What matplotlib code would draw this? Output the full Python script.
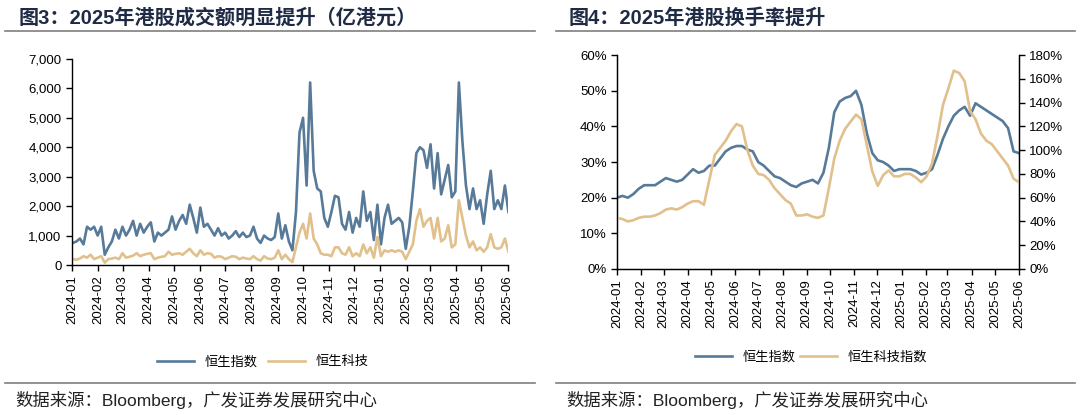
import matplotlib
matplotlib.use("Agg")
import matplotlib.pyplot as plt
import matplotlib.dates as mdates
from matplotlib.ticker import FuncFormatter, MultipleLocator
from matplotlib.lines import Line2D
import pandas as pd

plt.rcParams['font.family'] = ['Liberation Sans', 'Noto Sans CJK SC']

# ---- 图3: turnover (亿港元), sampled every ~3 trading days ----
hsi_turnover = [
    750, 800, 900, 700, 1300, 1200, 1300, 1000, 1300, 350,
    600, 800, 1200, 900, 1300, 1000, 1200, 1500, 1000, 1400,
    1100, 1300, 1450, 800, 1100, 1000, 1100, 1200, 1650, 1200,
    1500, 1700, 1400, 2050, 1600, 1100, 1950, 1300, 1400, 1200,
    1000, 1250, 1000, 1100, 900, 1000, 1150, 950, 1100, 950,
    1000, 1300, 900, 750, 1000, 900, 850, 950, 1750, 900,
    1350, 800, 500, 1800, 4500, 5000, 2700, 6200, 3200, 2600,
    2500, 1600, 1300, 1800, 2350, 2300, 1400, 1200, 1800, 1100,
    1600, 1300, 2500, 1500, 1800, 850, 2050, 700, 1600, 2050,
    1400, 1500, 1600, 1450, 550, 1300, 2500, 3800, 4000, 3900,
    3300, 4100, 2600, 3800, 2400, 2900, 3400, 2300, 2500, 6200,
    4200, 2700, 1900, 2600, 1900, 2200, 1400, 2400, 3200, 1900,
    2200, 1900, 2700, 1800,
]
hstech_turnover = [
    200, 180, 220, 300, 250, 350, 200, 250, 300, 80,
    200, 220, 250, 200, 400, 250, 280, 320, 400, 300,
    350, 380, 400, 200, 250, 280, 300, 450, 350, 380,
    400, 350, 450, 550, 400, 300, 500, 350, 400, 380,
    250, 300, 280, 200, 250, 300, 280, 200, 250, 220,
    200, 300, 200, 150, 300, 220, 200, 250, 500, 200,
    350, 200, 100, 600, 1100, 1400, 900, 1750, 900, 700,
    400, 350, 350, 300, 600, 600, 400, 350, 600, 300,
    400, 300, 700, 400, 600, 250, 950, 300, 500, 450,
    500, 450, 500, 450, 200, 450, 700, 1500, 1900, 1300,
    1500, 1600, 900, 1600, 800, 900, 1350, 600, 700, 2200,
    1600, 1000, 600, 800, 500, 600, 450, 600, 1050, 600,
    550, 600, 900, 450,
]
turnover_dates = pd.date_range('2024-01-02', '2025-06-02', periods=len(hsi_turnover))

# ---- 图4: turnover rate (%), weekly ----
hsi_rate = [
    20.0, 20.5, 20.0, 21.0, 22.5, 23.5, 23.5, 23.5, 24.5, 25.5,
    25.0, 24.5, 25.0, 26.5, 28.0, 27.0, 27.5, 29.0, 29.0, 31.0,
    33.0, 34.0, 34.5, 34.5, 33.5, 33.0, 30.0, 29.0, 27.5, 26.0,
    25.5, 24.5, 23.5, 23.0, 24.0, 24.5, 25.0, 24.0, 27.0, 34.0,
    44.0, 47.0, 48.0, 48.5, 50.0, 46.0, 38.0, 32.5, 30.5, 30.0,
    29.0, 27.5, 28.0, 28.0, 28.0, 27.5, 26.5, 27.0, 28.0, 32.0,
    36.5, 40.0, 43.0, 44.5, 45.5, 43.0, 46.5, 45.5, 44.5, 43.5,
    42.5, 41.5, 39.5, 33.0, 32.5,
]
hstech_rate = [
    43, 42, 40, 41, 43, 44, 44, 45, 47, 50,
    51, 50, 52, 55, 57, 57, 54, 75, 96, 102,
    108, 116, 122, 120, 100, 87, 80, 79, 75, 68,
    63, 58, 55, 45, 45, 46, 44, 43, 45, 68,
    93, 108, 118, 124, 130, 126, 104, 82, 70, 79,
    83, 78, 78, 80, 80, 77, 73, 78, 89, 112,
    138, 152, 167, 165, 158, 133, 126, 114, 108, 105,
    99, 93, 87, 76, 73,
]
rate_dates = pd.date_range('2024-01-01', '2025-06-01', periods=len(hsi_rate))

BLUE = '#587a99'
TAN = '#e1c08c'
NAVY = '#1f2a44'

fig = plt.figure(figsize=(10.8, 4.15), dpi=100)


def style_dates(ax):
    ax.set_xlim(pd.Timestamp('2024-01-01'), pd.Timestamp('2025-06-01'))
    ax.xaxis.set_major_locator(mdates.MonthLocator())
    ax.xaxis.set_major_formatter(mdates.DateFormatter('%Y-%m'))
    for lab in ax.get_xticklabels():
        lab.set_rotation(90)
    ax.tick_params(axis='both', direction='out', length=4, width=1, labelsize=9.5, colors='black')
    ax.spines['top'].set_visible(False)
    for s in ax.spines.values():
        s.set_linewidth(1)


# left chart
ax1 = fig.add_axes([0.0667, 0.3614, 0.4033, 0.4966])
ax1.plot(turnover_dates, hsi_turnover, color=BLUE, lw=1.9, label='恒生指数')
ax1.plot(turnover_dates, hstech_turnover, color=TAN, lw=1.9, label='恒生科技')
ax1.set_ylim(0, 7000)
ax1.yaxis.set_major_locator(MultipleLocator(1000))
ax1.yaxis.set_major_formatter(FuncFormatter(lambda v, p: f'{int(v):,}'))
ax1.spines['right'].set_visible(False)
style_dates(ax1)
ax1.legend(loc='center', bbox_to_anchor=(0.243, 0.128), bbox_transform=fig.transFigure,
           ncol=2, frameon=False, handlelength=2.8, columnspacing=0.8,
           prop={'family': 'Noto Sans CJK SC', 'size': 9.5})

# right chart
ax2 = fig.add_axes([0.5713, 0.352, 0.3722, 0.515])
l1, = ax2.plot(rate_dates, hsi_rate, color=BLUE, lw=1.9, label='恒生指数')
ax2.set_ylim(0, 60)
ax2.yaxis.set_major_locator(MultipleLocator(10))
ax2.yaxis.set_major_formatter(FuncFormatter(lambda v, p: f'{int(v)}%'))
ax3 = ax2.twinx()
l2, = ax3.plot(rate_dates, hstech_rate, color=TAN, lw=1.9, label='恒生科技指数')
ax3.set_ylim(0, 180)
ax3.yaxis.set_major_locator(MultipleLocator(20))
ax3.yaxis.set_major_formatter(FuncFormatter(lambda v, p: f'{int(v)}%'))
ax3.spines['top'].set_visible(False)
ax3.tick_params(axis='y', direction='out', length=4, width=1, labelsize=9.5)
style_dates(ax2)
ax2.legend([l1, l2], ['恒生指数', '恒生科技指数'], loc='center', bbox_to_anchor=(0.751, 0.14),
           bbox_transform=fig.transFigure, ncol=2, frameon=False, handlelength=2.8,
           columnspacing=0.3, prop={'family': 'Noto Sans CJK SC', 'size': 9.5})

# titles, rules and source notes
fig.text(0.017, 0.958, '图3：2025年港股成交额明显提升（亿港元）', fontsize=14.5,
         fontweight='bold', color=NAVY, va='center')
fig.text(0.526, 0.958, '图4：2025年港股换手率提升', fontsize=14.5,
         fontweight='bold', color=NAVY, va='center')
for x0, x1 in [(0.005, 0.495), (0.515, 0.995)]:
    fig.add_artist(Line2D([x0, x1], [0.925, 0.925], color='#7f7f7f', lw=1.2))
    fig.add_artist(Line2D([x0, x1], [0.078, 0.078], color='#7f7f7f', lw=1.2))
fig.text(0.014, 0.035, '数据来源：Bloomberg，广发证券发展研究中心', fontsize=12.5,
         color='#222222', va='center')
fig.text(0.524, 0.035, '数据来源：Bloomberg，广发证券发展研究中心', fontsize=12.5,
         color='#222222', va='center')

fig.savefig('out.png', dpi=100)
